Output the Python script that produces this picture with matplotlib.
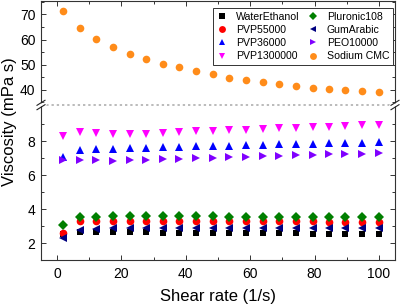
import matplotlib
matplotlib.use("Agg")
import matplotlib.pyplot as plt
from matplotlib.ticker import MultipleLocator, FixedLocator
from matplotlib.lines import Line2D

plt.rcParams['font.family'] = ['Liberation Sans', 'DejaVu Sans']

shear_rate = [1.9, 7.1, 12.2, 17.4, 22.6, 27.7, 32.9, 38.0, 43.2, 48.4,
              53.5, 58.7, 63.9, 69.0, 74.2, 79.4, 84.5, 89.6, 94.8, 100.0]

water_ethanol = [2.55, 2.62, 2.63, 2.63, 2.62, 2.62, 2.61, 2.60, 2.60, 2.59,
                 2.59, 2.58, 2.58, 2.57, 2.57, 2.56, 2.56, 2.55, 2.55, 2.55]
pvp55000 = [2.58, 3.27, 3.30, 3.30, 3.30, 3.30, 3.30, 3.29, 3.29, 3.29,
            3.28, 3.28, 3.28, 3.27, 3.27, 3.27, 3.26, 3.26, 3.26, 3.26]
pvp36000 = [7.06, 7.49, 7.53, 7.55, 7.57, 7.60, 7.63, 7.66, 7.69, 7.72,
            7.74, 7.77, 7.79, 7.81, 7.83, 7.85, 7.87, 7.89, 7.91, 7.93]
pvp1300000 = [8.31, 8.53, 8.49, 8.43, 8.43, 8.45, 8.49, 8.53, 8.57, 8.61,
              8.66, 8.68, 8.72, 8.76, 8.78, 8.82, 8.86, 8.90, 8.94, 8.98]
pluronic108 = [3.08, 3.52, 3.56, 3.57, 3.57, 3.57, 3.57, 3.57, 3.57, 3.57,
               3.56, 3.56, 3.56, 3.56, 3.56, 3.56, 3.56, 3.56, 3.56, 3.56]
gum_arabic = [2.30, 2.78, 2.84, 2.87, 2.88, 2.89, 2.89, 2.90, 2.90, 2.90,
              2.90, 2.90, 2.90, 2.89, 2.89, 2.89, 2.89, 2.89, 2.88, 2.88]
peo10000 = [6.88, 6.89, 6.87, 6.85, 6.87, 6.89, 6.92, 6.95, 6.98, 7.03,
            7.06, 7.09, 7.12, 7.14, 7.17, 7.19, 7.22, 7.24, 7.27, 7.30]
sodium_cmc = [71.4, 64.4, 60.1, 56.9, 54.4, 52.3, 50.4, 48.9, 47.5, 46.2,
              44.9, 43.8, 43.2, 42.4, 41.6, 40.9, 40.5, 39.9, 39.5, 39.1]

upper_yticks = [40, 50, 60, 70]
lower_yticks = [2, 4, 6, 8]
xticks = [0, 20, 40, 60, 80, 100]

series = [
    ("WaterEthanol", water_ethanol, 's', '#000000', 5),
    ("PVP55000", pvp55000, 'o', '#ff0000', 5.5),
    ("PVP36000", pvp36000, '^', '#0000ff', 5.5),
    ("PVP1300000", pvp1300000, 'v', '#ff00ff', 5.5),
    ("Pluronic108", pluronic108, 'D', '#007f00', 5),
    ("GumArabic", gum_arabic, '<', '#000080', 5.5),
    ("PEO10000", peo10000, '>', '#8000ff', 5.5),
    ("Sodium CMC", sodium_cmc, 'o', '#ff8c1a', 5.5),
]

W, H = 402, 307
fig = plt.figure(figsize=(W/100, H/100), dpi=100)
left, right = 41/W, 395/W
y_top, y_brk, y_bot = 0.5/H, 105/H, 260/H
ax_up = fig.add_axes([left, 1 - y_brk, right - left, y_brk - y_top])
ax_lo = fig.add_axes([left, 1 - y_bot, right - left, y_bot - y_brk])

for ax in (ax_up, ax_lo):
    for name, vals, mk, col, ms in series:
        ax.plot(shear_rate, vals, linestyle='none', marker=mk, color=col,
                markersize=ms, markeredgewidth=0, label=name)
    ax.set_xlim(-5, 105)
    ax.xaxis.set_major_locator(FixedLocator(xticks))
    ax.xaxis.set_minor_locator(MultipleLocator(10))
    ax.tick_params(which='both', direction='in', top=True, right=True,
                   labelsize=10, pad=4, color='#333333')
    ax.tick_params(which='major', length=3.5, width=0.7)
    ax.tick_params(which='minor', length=2, width=0.7)
    for sp in ax.spines.values():
        sp.set_linewidth(0.8)
        sp.set_color('#333333')

ax_up.set_ylim(34, 75.5)
ax_up.yaxis.set_major_locator(FixedLocator(upper_yticks))
ax_up.yaxis.set_minor_locator(MultipleLocator(5))
ax_up.spines['bottom'].set_visible(False)
ax_up.tick_params(which='both', bottom=False, labelbottom=False)

ax_lo.set_ylim(1, 10.13)
ax_lo.yaxis.set_major_locator(FixedLocator(lower_yticks))
ax_lo.yaxis.set_minor_locator(FixedLocator([3, 5, 7, 9]))
ax_lo.spines['top'].set_visible(False)
ax_lo.tick_params(which='both', top=False)
ax_lo.tick_params(axis='x', pad=5)

# dotted break line
fig.add_artist(Line2D([left, right], [1 - y_brk, 1 - y_brk], transform=fig.transFigure,
                      color='#bbbbbb', linestyle=(0, (1.2, 1.5)), linewidth=1.4))
# break marks
for xc in (left, right):
    fig.add_artist(Line2D([xc - 4/W, xc + 4/W], [1 - y_brk - 1/H, 1 - y_brk + 1/H],
                          transform=fig.transFigure, color='white', linewidth=2.2))
    for dy in (-2.2, 2.2):
        yc = 1 - y_brk + dy/H
        fig.add_artist(Line2D([xc - 4/W, xc + 4/W], [yc - 2.5/H, yc + 2.5/H],
                              transform=fig.transFigure, color='#222222', linewidth=0.8))

leg = ax_up.legend(ncol=2, loc='upper right', bbox_to_anchor=(393/W, 1 - 8/H),
                   bbox_transform=fig.transFigure, borderaxespad=0, fontsize=7.6,
                   frameon=True, fancybox=False, framealpha=1, edgecolor='#333333',
                   handlelength=1.0, handletextpad=0.8, columnspacing=0.8,
                   labelspacing=0.3, borderpad=0.35, markerscale=0.9)
leg.get_frame().set_linewidth(0.7)

fig.text(218/W, 1 - 296/H, "Shear rate (1/s)", ha='center', va='center', fontsize=12)
fig.text(10/W, 1 - 122/H, "Viscosity (mPa s)", ha='center', va='center',
         rotation=90, fontsize=12)

fig.savefig("out.png", dpi=100)
